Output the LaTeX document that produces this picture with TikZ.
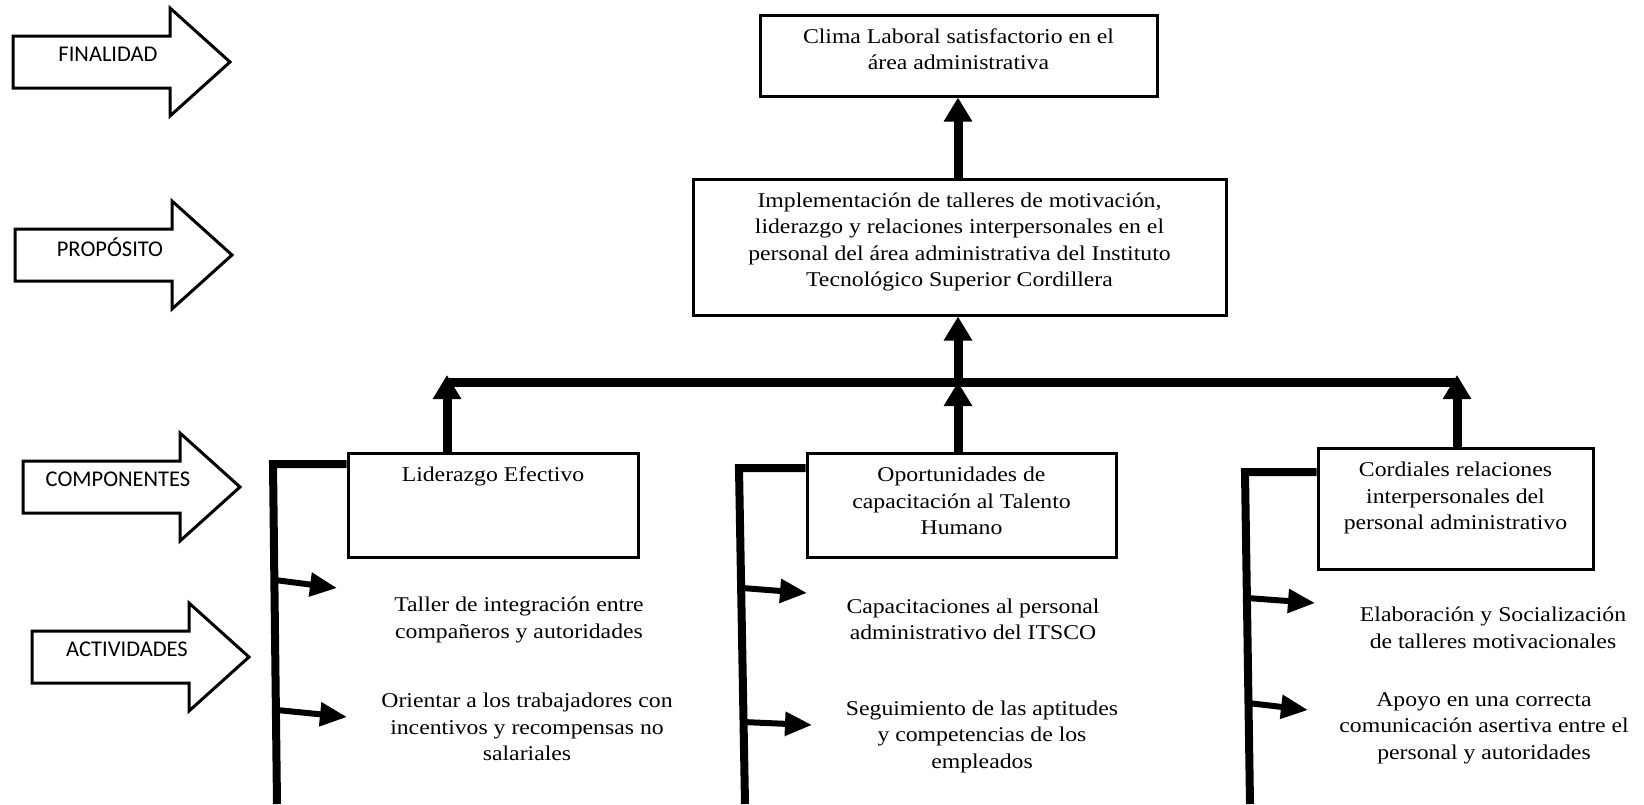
\documentclass[tikz,border=0pt]{standalone}
\usepackage{fontspec}
\setmainfont{Liberation Serif}[FakeStretch=1.13]
\newfontfamily\lblfont{Carlito}
\usetikzlibrary{arrows.meta}

\begin{document}
\begin{tikzpicture}[x=1pt, y=-1pt,
    box/.style={draw, line width=3pt, inner sep=0pt},
    txt/.style={align=center, font=\fontsize{21}{26.5}\selectfont},
    lvl/.style={draw, line width=3pt, line join=miter},
    lvltxt/.style={font=\lblfont\fontsize{22.5}{27}\selectfont},
    mainarrow/.style={line width=9pt, -{Triangle[width=27pt, length=24pt]}},
    bracket/.style={line width=8pt, line join=miter},
    actarrow/.style={line width=6pt, -{Triangle[width=23pt, length=27pt]}}
]
    \useasboundingbox (0,0) rectangle (1644,804);

    % level arrows on the left
    \foreach \i/\x/\y/\t in {1/13/62/FINALIDAD, 2/15/255/PROPÓSITO, 3/23/487/COMPONENTES, 4/32/657/ACTIVIDADES} {
        \draw[lvl] (\x,\y-26) -- ++(157,0) -- ++(0,-28) -- ++(60,54) -- ++(-60,54) -- ++(0,-28) -- ++(-157,0) -- cycle;
        \node[lvltxt] (lvl\i) at (\x+95,\y-8) {\t};
    }

    % boxes
    \node[box, minimum width=397, minimum height=81, label={[txt, yshift=6.5pt]center:{Clima Laboral satisfactorio en el\\área administrativa}}] (clima) at (958.5,55.5) {};
    \node[box, minimum width=533, minimum height=136, label={[txt, yshift=5pt]center:{Implementación de talleres de motivación,\\liderazgo y relaciones interpersonales en el\\personal del área administrativa del Instituto\\Tecnológico Superior Cordillera}}] (impl) at (959.5,247) {};
    \node[box, minimum width=290, minimum height=104, label={[txt, yshift=29pt]center:{Liderazgo Efectivo}}] (lider) at (493,505) {};
    \node[box, minimum width=309, minimum height=104, label={[txt, yshift=4pt]center:{Oportunidades de\\capacitación al Talento\\Humano}}] (oport) at (961.5,505) {};
    \node[box, minimum width=275, minimum height=121, label={[txt, yshift=10.5pt]center:{Cordiales relaciones\\interpersonales del\\personal administrativo}}] (cord) at (1455.5,508.5) {};

    % activities
    \node[txt] (act1) at (519,620) {Taller de integración entre\\compañeros y autoridades};
    \node[txt] (act2) at (527,727) {Orientar a los trabajadores con\\incentivos y recompensas no\\salariales};
    \node[txt] (act3) at (973,619.5) {Capacitaciones al personal\\administrativo del ITSCO};
    \node[txt] (act4) at (982,736.5) {Seguimiento de las aptitudes\\y competencias de los\\empleados};
    \node[txt] (act5) at (1493,628) {Elaboración y Socialización\\de talleres motivacionales};
    \node[txt] (act6) at (1484,728) {Apoyo en una correcta\\comunicación asertiva entre el\\personal y autoridades};

    % bar and main arrows
    \coordinate (barL) at (447,382);
    \coordinate (barM) at (958,382);
    \coordinate (barR) at (1457,382);
    \draw[line width=9pt] (barL) -- (barR);
    \draw[mainarrow] (impl.north -| barM) -- (clima.south -| barM);
    \draw[mainarrow] (barM) -- (impl.south -| barM);
    \draw[mainarrow] (oport.north -| barM) -- (barM);
    \draw[mainarrow] (lider.north -| barL) -- ([yshift=7pt]barL);
    \draw[mainarrow] (cord.north -| barR) -- ([yshift=7pt]barR);

    % brackets
    \coordinate (brL) at (273,464);
    \coordinate (brLend) at (277,804);
    \coordinate (brM) at (739,468);
    \coordinate (brMend) at (745,804);
    \coordinate (brR) at (1245,472);
    \coordinate (brRend) at (1250,804);
    \draw[bracket] (lider.west |- brL) -- (brL) -- (brLend);
    \draw[bracket] (oport.west |- brM) -- (brM) -- (brMend);
    \draw[bracket] (cord.west |- brR) -- (brR) -- (brRend);

    % small arrows to the activities
    \foreach \i/\sx/\sy/\tx/\ty in {1/275/580/337/588, 2/277/710/347/717, 3/742/588/807/593, 4/743/722/812/725, 5/1247/598/1315/603, 6/1248/703/1308/710} {
        \coordinate (s\i) at (\sx,\sy);
        \coordinate (t\i) at (\tx,\ty);
        \draw[actarrow] (s\i) -- (t\i);
    }
\end{tikzpicture}
\end{document}
